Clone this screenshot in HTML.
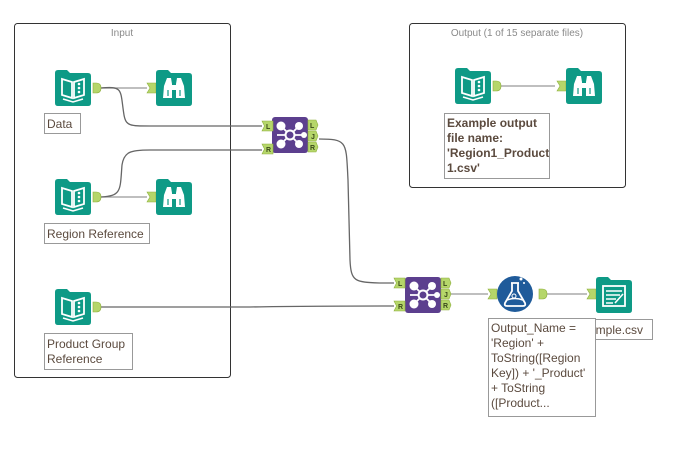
<!DOCTYPE html>
<html><head><meta charset="utf-8"><style>
html,body{margin:0;padding:0;background:#fff;width:678px;height:456px;overflow:hidden}
svg{display:block}
.lbl{font-family:"Liberation Sans",sans-serif;font-size:12px;fill:#5b4a3e}
.t{font-family:"Liberation Sans",sans-serif;font-size:10px;fill:#8a8a8a}
.tag{font-family:"Liberation Sans",sans-serif;font-size:7px;font-weight:bold;fill:#3a4a1a}
</style></head><body>
<svg width="678" height="456" viewBox="0 0 678 456" xmlns="http://www.w3.org/2000/svg">
<defs>
<g id="inp">
 <path d="M0 3 Q0 0 3 0 L12 0 L15 3 L33 3 Q36 3 36 6 L36 33 Q36 36 33 36 L3 36 Q0 36 0 33Z" fill="#0e9a86"/>
 <path d="M7 9 L17 12 L17 28 L7 25Z M19 12 L29 9 L29 25 L19 28Z" fill="none" stroke="#fff" stroke-width="1.8"/>
 <circle cx="24" cy="14" r="1.3" fill="#fff"/><circle cx="24" cy="18" r="1.3" fill="#fff"/><circle cx="24" cy="22" r="1.3" fill="#fff"/>
 <path d="M8 29 L18 32 L28 29" fill="none" stroke="#fff" stroke-width="1.5"/>
</g>
<g id="brw">
 <path d="M0 3 Q0 0 3 0 L12 0 L15 3 L33 3 Q36 3 36 6 L36 33 Q36 36 33 36 L3 36 Q0 36 0 33Z" fill="#0e9a86"/>
 <path d="M11 8 L15 8 L16 14 L16 28 L7 28 L8 16Z M25 8 L21 8 L20 14 L20 28 L29 28 L28 16Z" fill="#fff"/>
 <rect x="16" y="15" width="4" height="5" fill="#fff"/>
 <path d="M12 20 V26 M24 20 V26" stroke="#0e9a86" stroke-width="1.2"/>
</g>
<g id="out">
 <path d="M0 3 Q0 0 3 0 L12 0 L15 3 L33 3 Q36 3 36 6 L36 33 Q36 36 33 36 L3 36 Q0 36 0 33Z" fill="#0e9a86"/>
 <rect x="7" y="9" width="22" height="20" fill="none" stroke="#fff" stroke-width="1.8"/>
 <path d="M10 14 H26 M10 18 H24 M10 22 H20 M10 26 H17 M19 26 L27 17" stroke="#fff" stroke-width="1.6"/>
</g>
<g id="join">
 <rect x="0" y="0" width="36" height="36" rx="3" fill="#5c3f8e"/>
 <path d="M9 9 L27 27 M27 9 L9 27 M5 18 H31" stroke="#fff" stroke-width="1.8"/>
 <circle cx="18" cy="18" r="4.5" fill="#5c3f8e" stroke="#fff" stroke-width="2"/>
 <circle cx="9" cy="9" r="4.5" fill="#fff"/><circle cx="27" cy="9" r="4" fill="#fff"/>
 <circle cx="9" cy="27" r="4.5" fill="#fff"/><circle cx="27" cy="27" r="4" fill="#fff"/>
 <circle cx="32" cy="18" r="3" fill="#fff"/>
</g>
<path id="nubo" d="M0 0 H3 Q8 0 8 5 Q8 10 3 10 H0Z" fill="#b5d66a" stroke="#8fb03e" stroke-width="0.6"/>
<path id="nubi" d="M0 0 H9 V10 H0 L3 5Z" fill="#b5d66a" stroke="#8fb03e" stroke-width="0.6"/>
<path id="tagi" d="M0 0 H11 V10 H0 L2.5 5Z" fill="#b5d66a" stroke="#8fb03e" stroke-width="0.6"/>
<path id="tago" d="M0 0 H8 L10 5 L8 10 H0Z" fill="#b5d66a" stroke="#8fb03e" stroke-width="0.6"/>
</defs>

<rect x="14.5" y="23.5" width="216" height="354" rx="3" fill="none" stroke="#333" stroke-width="1"/>
<text class="t" x="122" y="36" text-anchor="middle">Input</text>
<rect x="409.5" y="23.5" width="216" height="164" rx="3" fill="none" stroke="#333" stroke-width="1"/>
<text class="t" x="517" y="36" text-anchor="middle">Output (1 of 15 separate files)</text>

<g fill="none" stroke="#999" stroke-width="1.3">
 <path d="M101 88 H147"/>
 <path d="M101 88 C124 86 120 90 124 115 C126 126 130 126 150 126 H262" stroke="#666"/>
 <path d="M101 197 H147"/>
 <path d="M101 197 C122 196 120 190 122 165 C124 152 130 150 150 150 H262" stroke="#666"/>
 <path d="M319 139 C348 139 346 142 348 180 L350 260 C351 282 355 282 380 283 H394" stroke="#666"/>
 <path d="M101 307 H250 C300 306 330 306 394 306" stroke="#666"/>
 <path d="M451 294 H488"/>
 <path d="M546 294 H587"/>
 <path d="M500 86 H555"/>
</g>

<use href="#inp" x="55" y="70"/><use href="#nubo" x="93" y="83"/>
<use href="#nubi" x="147" y="83"/><use href="#brw" x="156" y="70"/>
<use href="#inp" x="55" y="179"/><use href="#nubo" x="93" y="192"/>
<use href="#nubi" x="147" y="192"/><use href="#brw" x="156" y="179"/>
<use href="#inp" x="55" y="289"/><use href="#nubo" x="93" y="302"/>

<use href="#inp" x="455" y="68"/><use href="#nubo" x="493" y="81"/>
<use href="#nubi" x="557" y="81"/><use href="#brw" x="566" y="68"/>

<use href="#join" x="272" y="117"/>
<use href="#tagi" x="262" y="121"/><text class="tag" x="266" y="129">L</text>
<use href="#tagi" x="262" y="144"/><text class="tag" x="266" y="152">R</text>
<use href="#tago" x="308" y="120"/><text class="tag" x="310" y="128">L</text>
<use href="#tago" x="308" y="131"/><text class="tag" x="311" y="139">J</text>
<use href="#tago" x="308" y="142"/><text class="tag" x="310" y="150">R</text>

<use href="#join" x="405" y="277"/>
<use href="#tagi" x="394" y="278"/><text class="tag" x="398" y="286">L</text>
<use href="#tagi" x="394" y="301"/><text class="tag" x="398" y="309">R</text>
<use href="#tago" x="441" y="278"/><text class="tag" x="443" y="286">L</text>
<use href="#tago" x="441" y="289"/><text class="tag" x="444" y="297">J</text>
<use href="#tago" x="441" y="300"/><text class="tag" x="443" y="308">R</text>

<use href="#nubi" x="488" y="289"/>
<circle cx="515" cy="294" r="18" fill="#1f5b9a"/>
<path d="M511 283 H519 M512 283 V291 L505 303 Q504 306 507 306 H523 Q526 306 525 303 L518 291 V283" fill="none" stroke="#fff" stroke-width="1.8"/>
<path d="M507 300 Q515 297 523 300" fill="none" stroke="#fff" stroke-width="1.5"/>
<circle cx="514" cy="296" r="2" fill="none" stroke="#fff" stroke-width="1"/>
<circle cx="521" cy="279" r="1.5" fill="#fff"/><circle cx="524" cy="283" r="1" fill="#fff"/>
<use href="#nubo" x="539" y="289"/>

<use href="#nubi" x="587" y="289"/>
<use href="#out" x="596" y="277"/>

<g fill="#fff" stroke="#999" stroke-width="1">
<rect x="44.5" y="113.5" width="36" height="20"/>
<rect x="44.5" y="223.5" width="105" height="20"/>
<rect x="44.5" y="333.5" width="88" height="36"/>
<rect x="444.5" y="113.5" width="105" height="65"/>
<rect x="572.5" y="319.5" width="80" height="20"/>
</g>
<text class="lbl" x="47" y="128">Data</text>
<text class="lbl" x="47" y="238">Region Reference</text>
<text class="lbl" x="47" y="348">Product Group</text>
<text class="lbl" x="47" y="363">Reference</text>
<text class="lbl" x="447" y="127" font-weight="bold">Example output</text>
<text class="lbl" x="447" y="142" font-weight="bold">file name:</text>
<text class="lbl" x="447" y="157" font-weight="bold">'Region1_Product</text>
<text class="lbl" x="447" y="172" font-weight="bold">1.csv'</text>
<text class="lbl" x="575" y="334">Example.csv</text>
<rect x="488.5" y="318.5" width="107" height="98" fill="#fff" stroke="#999"/>
<text class="lbl" x="491" y="332">Output_Name =</text>
<text class="lbl" x="491" y="347">'Region' +</text>
<text class="lbl" x="491" y="362">ToString([Region</text>
<text class="lbl" x="491" y="377">Key]) + '_Product'</text>
<text class="lbl" x="491" y="392">+ ToString</text>
<text class="lbl" x="491" y="407">([Product...</text>
</svg>
</body></html>
